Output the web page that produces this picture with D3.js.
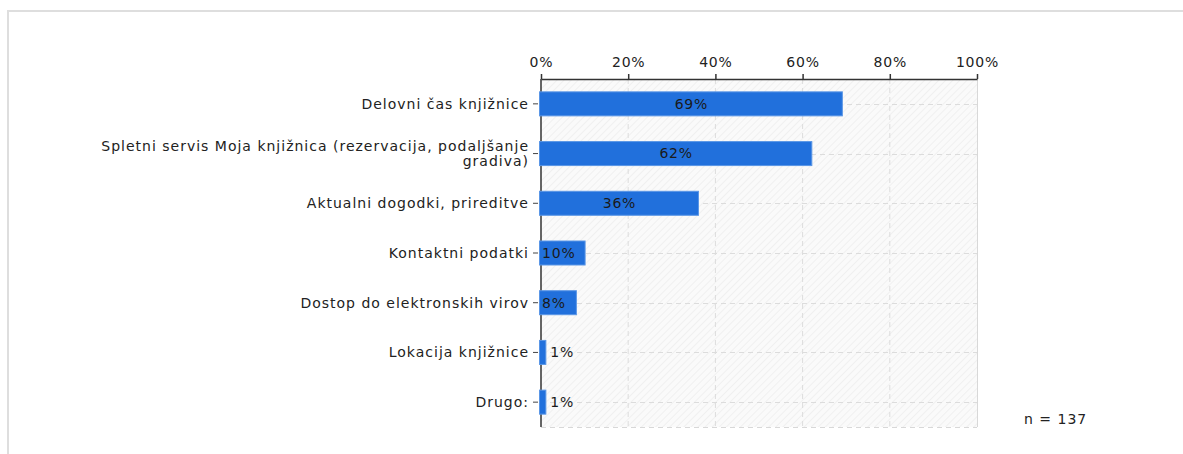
<!DOCTYPE html>
<html>
<head>
<meta charset="utf-8">
<script src="https://cdn.jsdelivr.net/npm/d3@7"></script>
<style>
  html, body { margin: 0; padding: 0; background: #fff; }
  svg { display: block; }
  text { font-family: "DejaVu Sans", Verdana, sans-serif; }
</style>
</head>
<body>
<div id="chart"></div>
<script>
// Survey responses: which library website content is used most
const categories = [
  ["Delovni čas knjižnice"],
  ["Spletni servis Moja knjižnica (rezervacija, podaljšanje", "gradiva)"],
  ["Aktualni dogodki, prireditve"],
  ["Kontaktni podatki"],
  ["Dostop do elektronskih virov"],
  ["Lokacija knjižnice"],
  ["Drugo:"]
];
const values = [69, 62, 36, 10, 8, 1, 1];
const tickValues = [0, 20, 40, 60, 80, 100];
const tickLabels = ["0%", "20%", "40%", "60%", "80%", "100%"];
const sampleNote = "n = 137";

const W = 1183, H = 454;
const plot = { left: 541, right: 977, top: 79, bottom: 427 };
const FONT = 14, SPACING = "1px";

const svg = d3.select("#chart").append("svg")
  .attr("width", W).attr("height", H);

// hatched background pattern
const defs = svg.append("defs");
const pat = defs.append("pattern")
  .attr("id", "hatch").attr("patternUnits", "userSpaceOnUse")
  .attr("width", 5).attr("height", 5)
  .attr("patternTransform", "rotate(45)");
pat.append("rect").attr("width", 5).attr("height", 5).attr("fill", "#fafafa");
pat.append("line").attr("x1", 0).attr("y1", 0).attr("x2", 0).attr("y2", 5)
  .attr("stroke", "#ededed").attr("stroke-width", 1.5);

// outer frame
svg.append("path")
  .attr("d", `M8,${H} V11 H${W}`)
  .attr("fill", "none").attr("stroke", "#dedede").attr("stroke-width", 2);

const x = d3.scaleLinear().domain([0, 100]).range([plot.left, plot.right]);
const y = d3.scaleBand().domain(d3.range(values.length))
  .range([plot.top, plot.bottom]).paddingInner(0.5).paddingOuter(0.25);
const rowCenter = i => y(i) + y.bandwidth() / 2;

// plot area
svg.append("rect")
  .attr("x", plot.left).attr("y", plot.top)
  .attr("width", plot.right - plot.left).attr("height", plot.bottom - plot.top)
  .attr("fill", "url(#hatch)");

// vertical dashed gridlines
svg.append("g").selectAll("line").data(tickValues.slice(1, -1)).join("line")
  .attr("x1", d => x(d)).attr("x2", d => x(d))
  .attr("y1", plot.top).attr("y2", plot.bottom)
  .attr("stroke", "#dcdcdc").attr("stroke-dasharray", "5,4");

// horizontal dashed gridlines at each row
svg.append("g").selectAll("line").data(d3.range(values.length)).join("line")
  .attr("x1", plot.left).attr("x2", plot.right)
  .attr("y1", d => Math.round(rowCenter(d)) + 0.5).attr("y2", d => Math.round(rowCenter(d)) + 0.5)
  .attr("stroke", "#dcdcdc").attr("stroke-dasharray", "5,4");

// right border and dashed bottom border
svg.append("line")
  .attr("x1", plot.right + 0.5).attr("x2", plot.right + 0.5)
  .attr("y1", plot.top).attr("y2", plot.bottom)
  .attr("stroke", "#d8d8d8");
svg.append("line")
  .attr("x1", plot.left).attr("x2", plot.right)
  .attr("y1", plot.bottom + 0.5).attr("y2", plot.bottom + 0.5)
  .attr("stroke", "#d8d8d8").attr("stroke-dasharray", "5,4");

// top axis
const xAxis = d3.axisTop(x).tickValues(tickValues)
  .tickFormat((d, i) => tickLabels[i]).tickSize(5).tickSizeOuter(0);
const gx = svg.append("g").attr("transform", `translate(0,${plot.top})`).call(xAxis);
gx.select(".domain").attr("stroke", "#333").attr("stroke-width", 1.5);
gx.selectAll(".tick line").attr("stroke", "#333").attr("stroke-width", 1.5);
gx.selectAll(".tick text")
  .attr("font-size", FONT).attr("fill", "#222").attr("letter-spacing", "0.8px")
  .attr("y", -12).attr("dy", 0);

// left axis line
svg.append("line")
  .attr("x1", plot.left).attr("x2", plot.left)
  .attr("y1", plot.top).attr("y2", plot.bottom)
  .attr("stroke", "#333").attr("stroke-width", 1.5);

// category ticks and labels
const cat = svg.append("g").selectAll("g").data(categories).join("g")
  .attr("transform", (d, i) => `translate(0,${rowCenter(i)})`);
cat.append("line")
  .attr("x1", plot.left - 8).attr("x2", plot.left - 3)
  .attr("stroke", "#444");
cat.append("text")
  .attr("x", plot.left - 12)
  .attr("text-anchor", "end")
  .attr("font-size", FONT).attr("fill", "#222").attr("letter-spacing", SPACING)
  .selectAll("tspan").data(d => d).join("tspan")
  .attr("x", plot.left - 12)
  .attr("y", (d, i, n) => (i - (n.length - 1) / 2) * 15)
  .attr("dy", "0.35em")
  .text(d => d);

// bars
const barH = 24;
svg.append("g").selectAll("rect").data(values).join("rect")
  .attr("x", x(0) - 1.5)
  .attr("y", (d, i) => rowCenter(i) - barH / 2)
  .attr("width", d => x(d) - x(0) + 2)
  .attr("height", barH)
  .attr("fill", "#2170dc")
  .attr("stroke", "#5a96e6").attr("stroke-width", 1);

// value labels
svg.append("g").selectAll("text").data(values).join("text")
  .attr("font-size", FONT).attr("fill", "#1a1a1a").attr("letter-spacing", "0.8px")
  .attr("dy", "0.35em")
  .attr("y", (d, i) => rowCenter(i))
  .attr("x", d => {
    const w = x(d) - x(0);
    if (w > 80) return x(0) + w / 2;
    if (w > 30) return x(0) + 1;
    return x(d) + 5;
  })
  .attr("text-anchor", d => (x(d) - x(0) > 80 ? "middle" : "start"))
  .text(d => d + "%");

// sample size note
svg.append("text")
  .attr("x", 1024).attr("y", 424)
  .attr("font-size", FONT).attr("fill", "#222").attr("letter-spacing", SPACING)
  .text(sampleNote);
</script>
</body>
</html>
